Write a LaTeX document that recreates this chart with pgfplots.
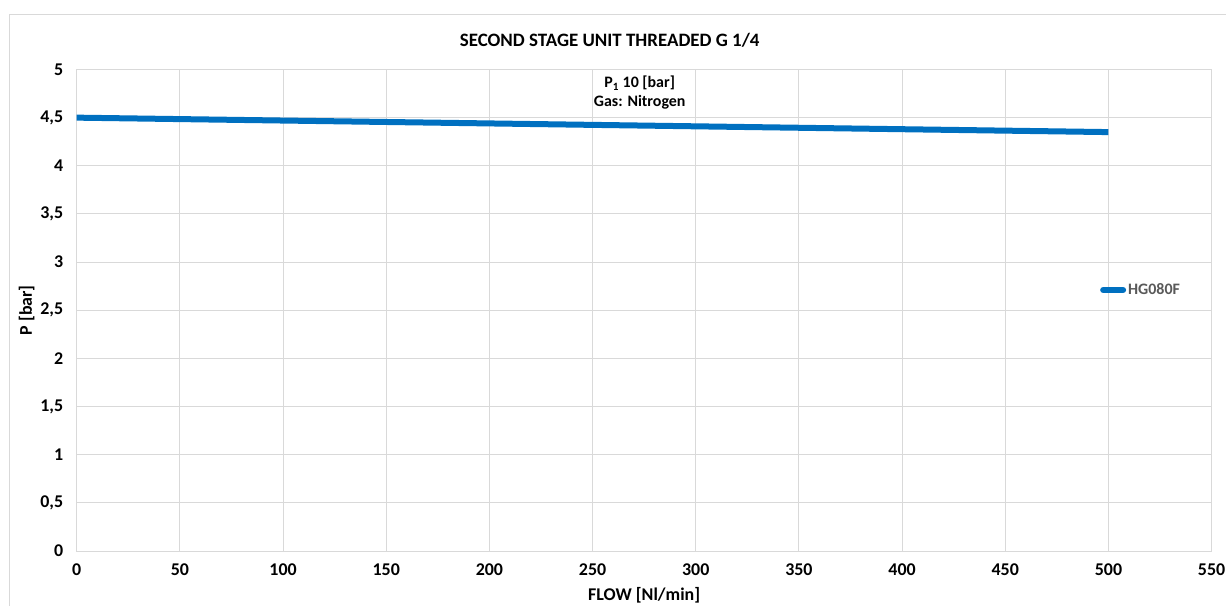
\documentclass[border=0pt]{standalone}
\usepackage{pgfplots}
\pgfplotsset{compat=1.18}
\usepackage{fontspec}
\setmainfont{Carlito}
\definecolor{lineblue}{HTML}{0070C0}
\definecolor{gridgray}{HTML}{D9D9D9}
\definecolor{legtext}{HTML}{595959}
\begin{document}
\begin{tikzpicture}
\useasboundingbox (-76.7bp,-55bp) rectangle (1149.3bp,551bp);
% chart area border
\draw[gridgray, line width=1bp] (-67.2bp,-70bp) |- (1170bp,536bp);
\begin{axis}[
    at={(0,0)}, anchor=south west,
    scale only axis,
    width=1135bp, height=481.5bp,
    xmin=0, xmax=550, ymin=0, ymax=5,
    xtick={0,50,...,550},
    ytick={0,0.5,...,5},
    grid=major,
    grid style={gridgray, line width=1bp},
    axis line style={gridgray, line width=1bp},
    major tick length=0pt,
    /pgf/number format/use comma,
    /pgf/number format/assume math mode=true,
    ticklabel style={font=\fontsize{18}{20}\selectfont\bfseries},
    xticklabel style={yshift=-9bp},
    yticklabel style={xshift=-10bp},
    xlabel={FLOW [Nl/min]},
    ylabel={P [bar]},
    label style={font=\fontsize{18}{20}\selectfont\bfseries},
    xlabel style={at={(axis description cs:0.5,0)}, anchor=center, yshift=-44bp},
    ylabel style={at={(axis description cs:0,0.5)}, anchor=center, yshift=50bp},
    legend style={draw=none, fill=none, at={(0.9016,0.542)}, anchor=west,
        inner sep=0pt, font=\fontsize{16}{18}\selectfont\bfseries, text=legtext,
        /tikz/every even column/.append style={column sep=0pt}},
    legend image code/.code={\draw[#1, line cap=round] (0bp,0bp) -- (20bp,0bp);},
]
\addplot[lineblue, line width=6bp] coordinates {(0,4.5) (500,4.35)};
\addlegendentry{HG080F}
\end{axis}
\node[font=\fontsize{19}{22}\selectfont\bfseries] at (533bp,511bp) {SECOND STAGE UNIT THREADED G 1/4};
\node[font=\fontsize{16}{19}\selectfont\bfseries, align=center] at (563bp,458bp) {P\textsubscript{1} 10 [bar]\\Gas: Nitrogen};
\end{tikzpicture}
\end{document}
